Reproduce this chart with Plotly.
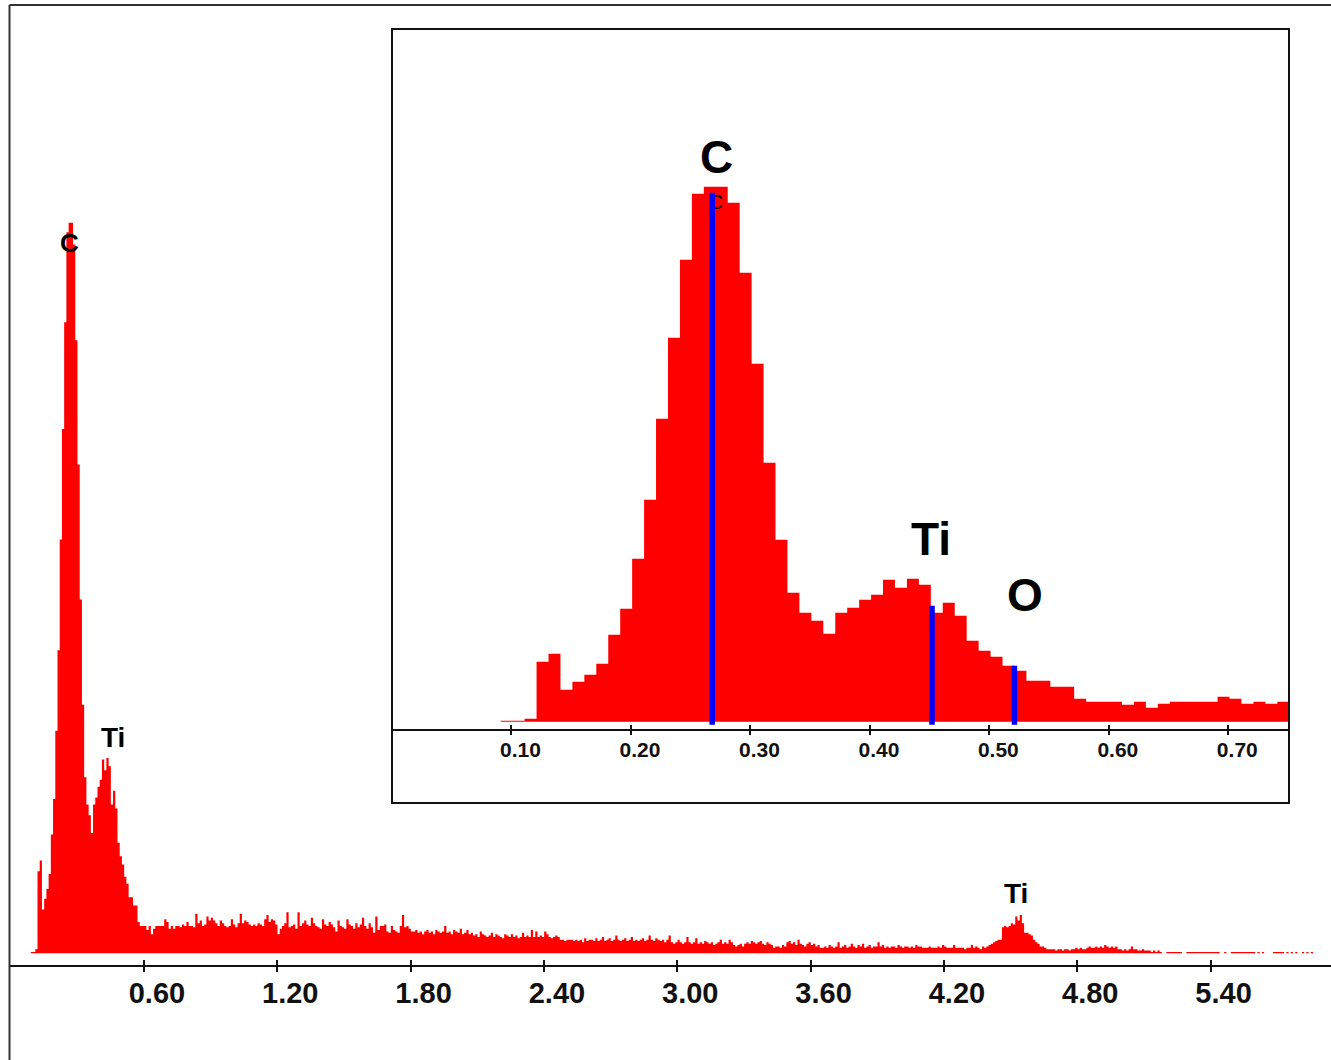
import plotly.graph_objects as go

# ---------------- data (counts per 0.01 keV channel) ----------------
E_START = 0.091   # keV, start of first channel
BIN_W = 0.01      # keV channel width

# 0.091 - 0.741 keV
counts_a = [1, 1, 3, 60, 68, 32, 40, 47, 58, 87,
            113, 163, 222, 303, 384, 462, 528, 535, 535, 519,
            449, 358, 259, 182, 129, 109, 101, 88, 109, 114,
            122, 127, 142, 134, 143, 137, 109, 119, 106, 81,
            71, 65, 56, 51, 41, 41, 35, 35, 23, 20,
            20, 20, 17, 20, 14, 18, 20, 20, 20, 20,
            25, 23, 18, 20, 18, 20]
# 0.751 - 1.741 keV
counts_b = [20, 19, 21, 20, 23, 20, 20, 19, 29, 22,
            24, 20, 21, 27, 24, 26, 24, 22, 20, 24,
            22, 20, 19, 20, 25, 21, 19, 22, 29, 22,
            24, 23, 21, 20, 21, 20, 22, 21, 20, 25,
            28, 23, 25, 24, 21, 14, 18, 20, 22, 30,
            19, 20, 21, 18, 30, 20, 22, 24, 21, 20,
            26, 22, 20, 19, 18, 25, 21, 20, 23, 21,
            19, 16, 24, 20, 19, 18, 25, 21, 20, 18,
            22, 19, 21, 26, 20, 18, 22, 19, 15, 27,
            17, 20, 20, 21, 16, 15, 20, 17, 16, 15]
# 1.751 - 2.741 keV
counts_c = [20, 28, 19, 20, 18, 16, 16, 17, 15, 16,
            14, 16, 17, 15, 16, 14, 17, 16, 15, 16,
            20, 15, 16, 14, 17, 16, 15, 18, 14, 15,
            17, 14, 15, 13, 14, 12, 16, 14, 13, 12,
            13, 15, 12, 14, 13, 12, 11, 14, 13, 12,
            14, 12, 13, 11, 12, 15, 12, 13, 12, 17,
            12, 16, 12, 13, 12, 16, 14, 12, 11, 12,
            13, 12, 10, 10, 9, 10, 10, 10, 9, 10,
            9, 10, 8, 11, 9, 10, 10, 9, 11, 9,
            10, 12, 9, 10, 11, 9, 10, 13, 10, 9]
# 2.751 - 3.741 keV
counts_d = [10, 11, 9, 10, 12, 9, 10, 9, 10, 11,
            9, 10, 13, 10, 9, 11, 10, 9, 10, 8,
            10, 13, 8, 7, 8, 10, 8, 7, 8, 12,
            8, 7, 8, 11, 7, 8, 7, 9, 8, 7,
            8, 6, 7, 8, 10, 7, 8, 7, 10, 8,
            6, 5, 6, 7, 5, 7, 8, 7, 9, 8,
            7, 8, 9, 7, 6, 8, 7, 6, 4, 5,
            5, 4, 6, 5, 8, 9, 7, 8, 6, 10,
            7, 6, 5, 7, 8, 6, 7, 5, 6, 4,
            4, 5, 4, 6, 5, 4, 5, 8, 4, 5]
# 3.751 - 4.741 keV (Ti K peak)
counts_e = [6, 4, 5, 7, 5, 4, 6, 5, 7, 4,
            5, 6, 4, 5, 5, 8, 5, 6, 4, 5,
            4, 5, 5, 4, 6, 5, 4, 5, 5, 4,
            5, 4, 6, 5, 5, 4, 4, 4, 5, 4,
            4, 4, 5, 4, 6, 5, 4, 4, 4, 6,
            4, 4, 4, 4, 3, 4, 4, 6, 4, 5,
            4, 3, 5, 4, 5, 6, 7, 8, 9, 10,
            10, 19, 20, 19, 20, 22, 21, 27, 24, 28,
            22, 15, 15, 14, 13, 10, 8, 7, 5, 5,
            4, 3, 3, 3, 3, 2, 3, 3, 2, 3]
# 4.751 - 5.861 keV
counts_f = [3, 2, 3, 3, 4, 3, 4, 3, 3, 4,
            5, 4, 4, 5, 4, 5, 4, 6, 5, 4,
            5, 4, 5, 3, 3, 2, 3, 2, 3, 5,
            3, 3, 2, 2, 3, 2, 2, 2, 1, 2,
            1, 2, 1, 0, 0, 1, 1, 1, 1, 1,
            1, 1, 0, 0, 1, 1, 1, 1, 1, 1,
            1, 1, 1, 1, 1, 1, 1, 1, 1, 0,
            0, 1, 0, 0, 1, 1, 1, 1, 1, 1,
            1, 1, 1, 1, 1, 0, 1, 0, 1, 0,
            0, 0, 0, 1, 1, 1, 1, 1, 0, 1,
            0, 1, 0, 1, 0, 0, 1, 0, 1, 0,
            1, 0]

main_tick_vals = [0.6, 1.2, 1.8, 2.4, 3.0, 3.6, 4.2, 4.8, 5.4]
inset_tick_vals = [0.1, 0.2, 0.3, 0.4, 0.5, 0.6, 0.7]

# element marker lines (inset)
line_elements = ["C", "Ti", "O"]
line_energy = [0.268, 0.452, 0.521]
line_height = [529, 116, 56]

# element labels
main_labels = ["C", "Ti", "Ti"]
main_label_x = [0.267, 0.462, 4.524]
main_label_y = [520, 158, 44]
inset_labels = ["C", "Ti", "O"]
inset_label_x = [0.2713, 0.4514, 0.530]
inset_label_y = [565, 183, 127]

# ---------------- build ----------------
counts = counts_a + counts_b + counts_c + counts_d + counts_e + counts_f
edges = [round(E_START + BIN_W * i, 3) for i in range(len(counts) + 1)]
y_step = counts + [counts[-1]]

W, H = 1331, 1060
def px(xp):
    return xp / W
def py(yp):
    return 1 - yp / H

RED = "#FF0000"
BLUE = "#0000FF"
LINE_DROP = 3

# marker-line segments built from the element-line arrays
seg_x, seg_y = [], []
for e, h in zip(line_energy, line_height):
    seg_x += [e, e, None]
    seg_y += [-LINE_DROP, h, None]

fig = go.Figure()

# main spectrum
fig.add_trace(go.Scatter(x=edges, y=y_step, mode="lines",
                         line=dict(shape="hv", width=0, color=RED),
                         fill="tozeroy", fillcolor=RED,
                         xaxis="x", yaxis="y", hoverinfo="skip", showlegend=False))
# inset spectrum
fig.add_trace(go.Scatter(x=edges, y=y_step, mode="lines",
                         line=dict(shape="hv", width=0, color=RED),
                         fill="tozeroy", fillcolor=RED,
                         xaxis="x2", yaxis="y2", hoverinfo="skip", showlegend=False))
# small software label under the C marker
fig.add_trace(go.Scatter(x=[0.2711], y=[518], mode="text", text=["C"],
                         textfont=dict(family="Liberation Sans", size=20, color="black"),
                         xaxis="x2", yaxis="y2", hoverinfo="skip", showlegend=False))
# element marker lines
fig.add_trace(go.Scatter(x=seg_x, y=seg_y, mode="lines",
                         line=dict(color=BLUE, width=5.5),
                         xaxis="x2", yaxis="y2", hoverinfo="skip", showlegend=False))
# helper traces for tick overlay axes
fig.add_trace(go.Scatter(x=[None], y=[None], xaxis="x3", yaxis="y", showlegend=False, hoverinfo="skip"))
fig.add_trace(go.Scatter(x=[None], y=[None], xaxis="x4", yaxis="y2", showlegend=False, hoverinfo="skip"))

main_range = [-0.005, 5.942]
inset_range = [0.0, 0.7508]
tick_txt_main = ["%.2f" % v for v in main_tick_vals]
tick_txt_inset = ["%.2f" % v for v in inset_tick_vals]

fig.update_layout(
    width=W, height=H, margin=dict(l=0, r=0, t=0, b=0),
    paper_bgcolor="white", plot_bgcolor="rgba(0,0,0,0)",
    showlegend=False,
    xaxis=dict(domain=[px(9.5), 1], range=main_range, anchor="y",
               showline=True, linecolor="#111", linewidth=2,
               ticks="outside", ticklen=5, tickwidth=2, tickcolor="#111",
               tickvals=main_tick_vals, ticktext=tick_txt_main,
               tickfont=dict(family="Liberation Sans", size=29, color="#111", weight="bold"),
               ticklabelshift=13, ticklabelstandoff=-4,
               showgrid=False, zeroline=False),
    xaxis3=dict(overlaying="x", anchor="y", range=main_range,
                ticks="inside", ticklen=5, tickwidth=2, tickcolor="#111",
                tickvals=main_tick_vals, showticklabels=False,
                showline=False, showgrid=False, zeroline=False),
    yaxis=dict(domain=[py(965), py(5)], range=[-8.57, 694.4], visible=False),
    xaxis2=dict(domain=[px(392), px(1289)], range=inset_range, anchor="y2",
                showline=True, linecolor="#111", linewidth=2,
                ticks="outside", ticklen=4, tickwidth=1.5, tickcolor="#111",
                tickvals=inset_tick_vals, ticktext=tick_txt_inset,
                tickfont=dict(family="Liberation Sans", size=21, color="#111", weight="bold"),
                ticklabelshift=9, ticklabelstandoff=-4,
                showgrid=False, zeroline=False),
    xaxis4=dict(overlaying="x2", anchor="y2", range=inset_range,
                ticks="inside", ticklen=4, tickwidth=1.5, tickcolor="#111",
                tickvals=inset_tick_vals, showticklabels=False,
                showline=False, showgrid=False, zeroline=False),
    yaxis2=dict(domain=[py(729.3), py(29)], range=[-7.6, 692.7], visible=False),
)

# frames
fig.add_shape(type="line", xref="paper", yref="paper", x0=px(9.5), x1=px(9.5), y0=0, y1=py(5),
              line=dict(color="#333", width=2))
fig.add_shape(type="line", xref="paper", yref="paper", x0=px(9.5), x1=1, y0=py(5), y1=py(5),
              line=dict(color="#333", width=2))
fig.add_shape(type="rect", xref="paper", yref="paper", x0=px(392), x1=px(1289), y0=py(803), y1=py(29),
              line=dict(color="#111", width=2), fillcolor="rgba(0,0,0,0)")

# labels
main_sizes = [26, 28, 28]
for t, x, y, s in zip(main_labels, main_label_x, main_label_y, main_sizes):
    fig.add_annotation(x=x, y=y, xref="x", yref="y", text=t, showarrow=False,
                       xanchor="center", yanchor="middle",
                       font=dict(family="Liberation Sans", size=s, color="black", weight="bold"))
for t, x, y in zip(inset_labels, inset_label_x, inset_label_y):
    fig.add_annotation(x=x, y=y, xref="x2", yref="y2", text=t, showarrow=False,
                       xanchor="center", yanchor="middle",
                       font=dict(family="Liberation Sans", size=46, color="black", weight="bold"))

fig.write_html("out.html")
